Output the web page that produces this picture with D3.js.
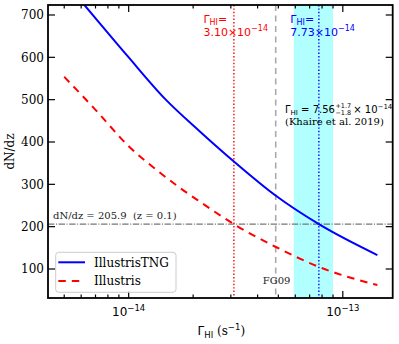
<!DOCTYPE html>
<html>
<head>
<meta charset="utf-8">
<script src="https://cdn.jsdelivr.net/npm/d3@7"></script>
<style>
  body { margin: 0; background: #fff; }
  text { font-family: "DejaVu Serif", serif; }
  .sans { font-family: "DejaVu Sans", sans-serif; }
</style>
</head>
<body>
<script>
// Gamma_HI in units of 1e-14 s^-1
var gammaTNG = [0.5, 0.62, 0.98, 1.49, 2.15, 3.1, 4.87, 7.73, 14.5];
var dndzTNG  = [780, 724, 605, 500, 425, 354, 273, 206, 133];
var gammaIll = [0.5, 0.7, 1.0, 1.35, 1.71, 2.15, 3.1, 4.87, 7.73, 14.5];
var dndzIll  = [554, 476, 390, 334, 294, 259, 206, 152, 105, 62];

var yTicks = [100, 200, 300, 400, 500, 600, 700];
var xMajor = [1e-14, 1e-13];
var xLabels = ["-14", "-13"];
var dndzObs = 205.9;
var gammaIll0 = 3.10e-14;
var gammaTNG0 = 7.73e-14;
var gammaFG09 = 4.86e-14;
var khaireLo = 5.9e-14, khaireHi = 9.0e-14;

var W = 399, H = 344;
var m = {left: 48, top: 5, right: 6.3, bottom: 46};
var w = W - m.left - m.right, h = H - m.top - m.bottom;

var svg = d3.select("body").append("svg").attr("width", W).attr("height", H);
var g = svg.append("g").attr("transform", "translate(" + m.left + "," + m.top + ")");

var x = d3.scaleLog().domain([4.2e-15, 1.71e-13]).range([0, w]);
var y = d3.scaleLinear().domain([31.5, 723.6]).range([h, 0]);

g.append("clipPath").attr("id", "clip").append("rect").attr("width", w).attr("height", h);
var plot = g.append("g").attr("clip-path", "url(#clip)");

// Khaire et al. band
plot.append("rect")
    .attr("x", x(khaireLo)).attr("width", x(khaireHi) - x(khaireLo))
    .attr("y", 0).attr("height", h)
    .style("fill", "#b2ffff");

// reference lines
plot.append("line")
    .attr("x1", 0).attr("x2", w).attr("y1", y(dndzObs)).attr("y2", y(dndzObs))
    .style("stroke", "#777").style("stroke-width", 1.2).style("stroke-dasharray", "6.4,1.6,1,1.6");
plot.append("line")
    .attr("x1", x(gammaFG09)).attr("x2", x(gammaFG09)).attr("y1", 0).attr("y2", h)
    .style("stroke", "#aaa").style("stroke-width", 1.6).style("stroke-dasharray", "6,4.5");
plot.append("line")
    .attr("x1", x(gammaIll0)).attr("x2", x(gammaIll0)).attr("y1", 0).attr("y2", h)
    .style("stroke", "red").style("stroke-width", 1.4).style("stroke-dasharray", "1.4,2");
plot.append("line")
    .attr("x1", x(gammaTNG0)).attr("x2", x(gammaTNG0)).attr("y1", 0).attr("y2", h)
    .style("stroke", "blue").style("stroke-width", 1.4).style("stroke-dasharray", "1.4,2");

var line = d3.line()
    .x(function(d) { return x(d[0] * 1e-14); })
    .y(function(d) { return y(d[1]); })
    .curve(d3.curveMonotoneX);

plot.append("path")
    .datum(d3.zip(gammaTNG, dndzTNG))
    .attr("d", line)
    .style("fill", "none").style("stroke", "blue").style("stroke-width", 2);
plot.append("path")
    .datum(d3.zip(gammaIll, dndzIll))
    .attr("d", line)
    .style("fill", "none").style("stroke", "red").style("stroke-width", 2)
    .style("stroke-dasharray", "7.5,6");

// axes with inward ticks on all sides
var xMinor = [];
[-15, -14, -13].forEach(function(e) {
    for (var k = 2; k <= 9; k++) {
        var v = k * Math.pow(10, e);
        if (v > x.domain()[0] && v < x.domain()[1]) xMinor.push(v);
    }
});

function drawTicks(sel, vals, len, horiz, atEnd) {
    sel.selectAll(null).data(vals).enter().append("line")
        .attr("x1", function(d) { return horiz ? x(d) : (atEnd ? w : 0); })
        .attr("x2", function(d) { return horiz ? x(d) : (atEnd ? w - len : len); })
        .attr("y1", function(d) { return horiz ? (atEnd ? 0 : h) : y(d); })
        .attr("y2", function(d) { return horiz ? (atEnd ? len : h - len) : y(d); })
        .style("stroke", "#000").style("stroke-width", 1.2);
}
var ticks = g.append("g");
drawTicks(ticks, xMajor, 7, true, false);
drawTicks(ticks, xMajor, 7, true, true);
drawTicks(ticks, xMinor, 3.5, true, false);
drawTicks(ticks, xMinor, 3.5, true, true);
drawTicks(ticks, yTicks, 7, false, false);
drawTicks(ticks, yTicks, 7, false, true);

g.append("rect").attr("width", w).attr("height", h)
    .style("fill", "none").style("stroke", "#000").style("stroke-width", 1.8);

g.selectAll(".ylab").data(yTicks).enter().append("text")
    .attr("class", "ylab")
    .attr("x", -4).attr("y", function(d) { return y(d) + 4.3; })
    .attr("text-anchor", "end").style("font-size", "12px")
    .text(function(d) { return d; });

var xl = g.selectAll(".xlab").data(xMajor).enter().append("text")
    .attr("class", "xlab sans")
    .attr("x", function(d) { return x(d); }).attr("y", h + 18)
    .attr("text-anchor", "middle").style("font-size", "12px");
xl.append("tspan").text("10");
xl.append("tspan").attr("dy", -5).style("font-size", "8.5px")
    .text(function(d, i) { return "\u2212" + xLabels[i].slice(1); });

// axis titles
g.append("text")
    .attr("transform", "translate(-34," + (h / 2) + ") rotate(-90)")
    .attr("text-anchor", "middle").style("font-size", "12px")
    .text("dN/dz");

var xt = g.append("text").attr("x", w / 2 + 1).attr("y", h + 37)
    .attr("text-anchor", "middle").style("font-size", "12px");
xt.append("tspan").attr("class", "sans").text("\u0393");
xt.append("tspan").attr("class", "sans").attr("dy", 2.5).style("font-size", "8.5px").text("HI");
xt.append("tspan").attr("dy", -2.5).text(" (s");
xt.append("tspan").attr("class", "sans").attr("dy", -5).style("font-size", "8.5px").text("\u22121");
xt.append("tspan").attr("dy", 5).text(")");

// annotations
function gammaLabel(xp, col, val) {
    var t1 = g.append("text").attr("class", "sans").attr("x", xp).attr("y", 18)
        .style("font-size", "11px").style("fill", col);
    t1.append("tspan").text("\u0393");
    t1.append("tspan").attr("dy", 1.8).style("font-size", "8px").text("HI");
    t1.append("tspan").attr("dy", -1.8).text("=");
    var t2 = g.append("text").attr("class", "sans").attr("x", xp).attr("y", 30.5)
        .style("font-size", "11px").style("fill", col);
    t2.append("tspan").text(val + "\u00d710");
    t2.append("tspan").attr("dy", -4.5).style("font-size", "8px").text("\u221214");
}
gammaLabel(x(gammaIll0) - 30.5, "red", "3.10");
gammaLabel(x(gammaTNG0) - 28.5, "blue", "7.73");

var kx0 = 237;
var kh = g.append("text").attr("class", "sans").attr("x", kx0).attr("y", 107.5)
    .style("font-size", "10px").style("fill", "#000");
kh.append("tspan").text("\u0393");
kh.append("tspan").attr("dy", 2).style("font-size", "7px").text("HI");
kh.append("tspan").attr("dy", -2).text(" = 7.56");
var kx = kx0 + kh.node().getComputedTextLength() + 0.5;
var sup = g.append("text").attr("class", "sans").attr("x", kx).attr("y", 103)
    .style("font-size", "6.5px").text("+1.7");
g.append("text").attr("class", "sans").attr("x", kx).attr("y", 109.5)
    .style("font-size", "6.5px").text("\u22121.8");
var kh2 = g.append("text").attr("class", "sans")
    .attr("x", kx + sup.node().getComputedTextLength() + 2).attr("y", 107.5)
    .style("font-size", "10px");
kh2.append("tspan").text("\u00d7 10");
kh2.append("tspan").attr("dy", -4).style("font-size", "7px").text("\u221214");
g.append("text").attr("x", kx0).attr("y", 120)
    .style("font-size", "10px").text("(Khaire et al. 2019)");

g.append("text").attr("x", 5).attr("y", y(dndzObs) - 5.5)
    .style("font-size", "10px").style("fill", "#222")
    .text("dN/dz = 205.9\u00a0 (z = 0.1)");

g.append("text").attr("x", x(gammaFG09) - 13).attr("y", 279)
    .style("font-size", "10px").style("fill", "#222").text("FG09");

// legend
var lg = g.append("g").attr("transform", "translate(7.7,247.3)");
lg.append("rect").attr("width", 120.3).attr("height", 40).attr("rx", 3)
    .style("fill", "#fff").style("fill-opacity", 0.8).style("stroke", "#ccc").style("stroke-width", 1);
var items = [["IllustrisTNG", "blue", "none"], ["Illustris", "red", "7.5,6"]];
var li = lg.selectAll(".li").data(items).enter().append("g")
    .attr("transform", function(d, i) { return "translate(0," + (10 + i * 18.7) + ")"; });
li.append("line").attr("x1", 2.6).attr("x2", 29.3)
    .style("stroke", function(d) { return d[1]; }).style("stroke-width", 2)
    .style("stroke-dasharray", function(d) { return d[2]; });
li.append("text").attr("x", 38.3).attr("y", 4.3).style("font-size", "12px")
    .text(function(d) { return d[0]; });
</script>
</body>
</html>
